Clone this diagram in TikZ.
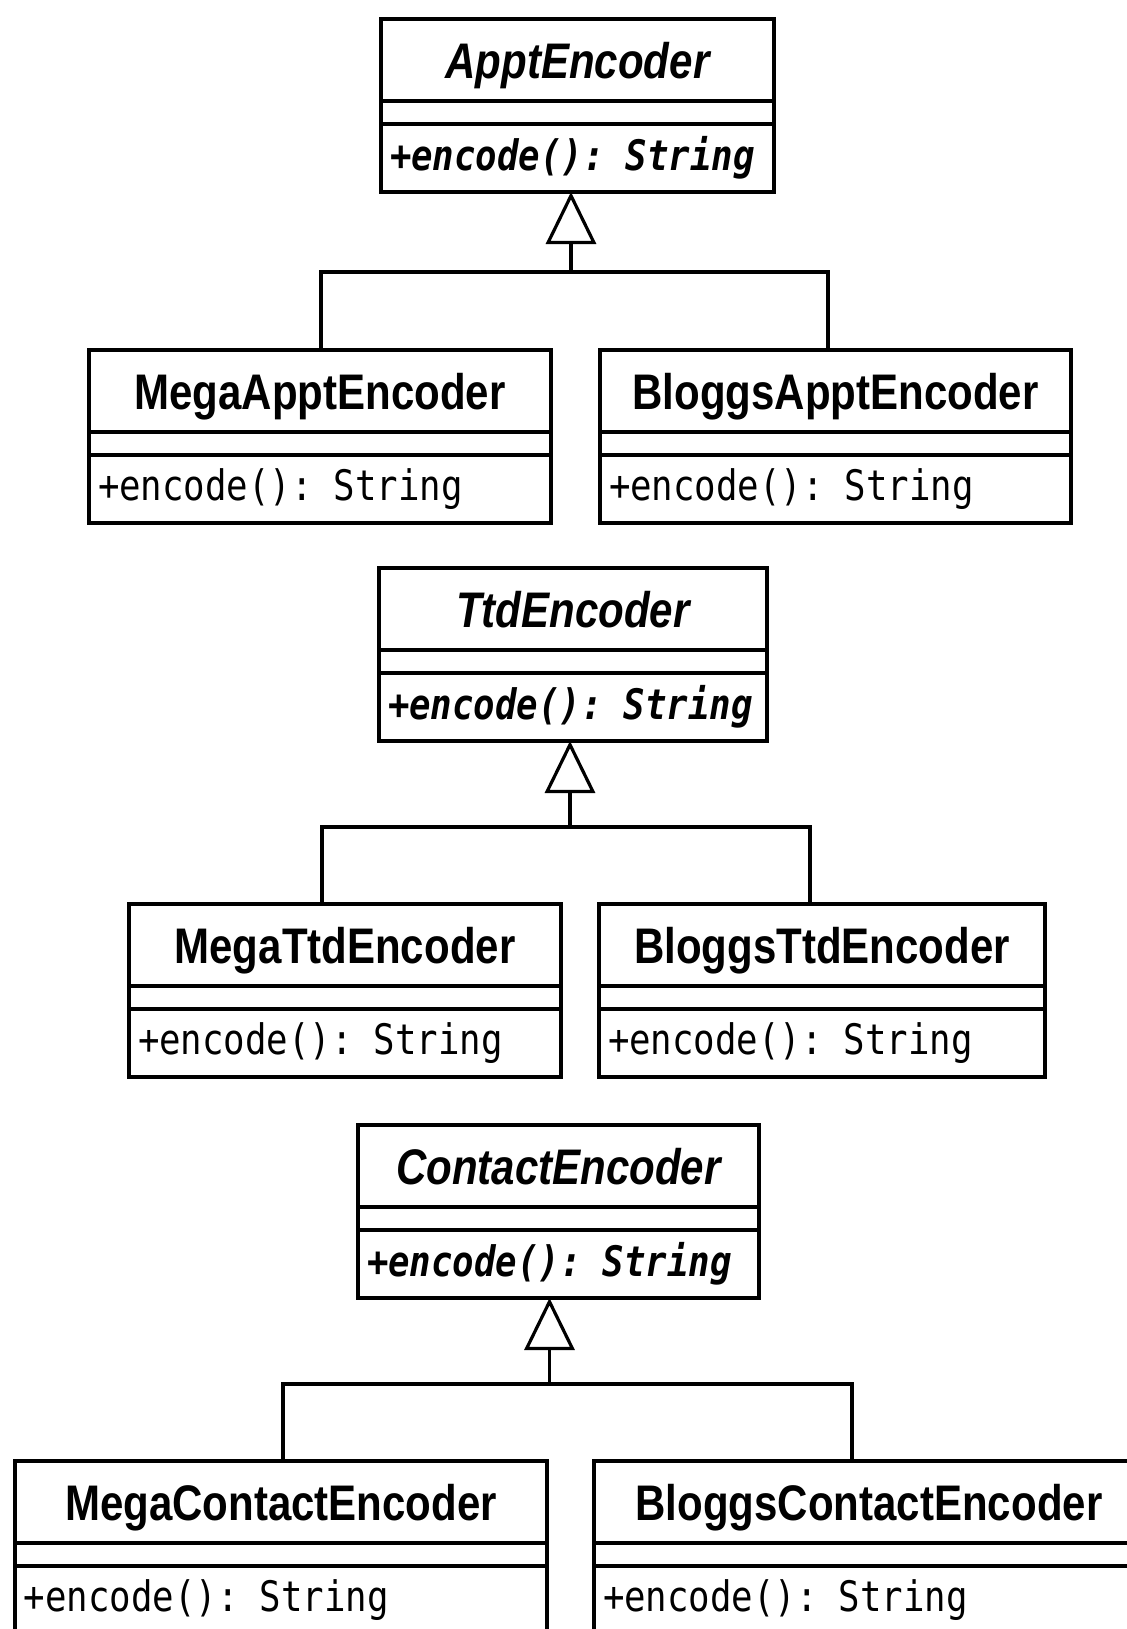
\documentclass[tikz,border=0pt]{standalone}
\usepackage{fontspec}
\usepackage{tikz}
\usetikzlibrary{positioning,arrows.meta}
\newfontfamily\titlefont[FakeStretch=0.84]{Liberation Sans}
\newfontfamily\opfont[FakeStretch=0.85]{DejaVu Sans Mono}

\begin{document}
\begin{tikzpicture}[x=0.5pt, y=-0.5pt,
  class name/.style={draw, line width=1.6pt, outer sep=0pt, anchor=north, minimum width=#1, minimum height=41pt, inner sep=0pt,
    text depth=0pt, font=\titlefont\bfseries\fontsize{25}{25}\selectfont},
  class attr/.style={draw, line width=1.6pt, outer sep=0pt, minimum width=#1, minimum height=11.5pt, inner sep=0pt},
  class ops/.style={draw, line width=1.6pt, outer sep=0pt, text width=#1, align=left, minimum height=34pt, inner xsep=4.5pt, inner ysep=0pt,
    font=\opfont\fontsize{21}{21}\selectfont},
  abstract/.style={font=\titlefont\bfseries\itshape\fontsize{25}{25}\selectfont},
  abstract op/.style={font=\opfont\bfseries\itshape\fontsize{21}{21}\selectfont},
  inherits/.style={line width=1.6pt},
  generalizes/.style={line width=1.6pt, -{Triangle[open, length=26pt, width=25pt, line width=1.6pt]}}]
\useasboundingbox (0,0) rectangle (1127,1629);
\clip (0,0) rectangle (1127,1629);

\node[class name=196.5pt, abstract] (appt) at (577.5,19) {ApptEncoder};
\node[class attr=196.5pt, below=0pt of appt] (appt attr) {};
\node[class ops=187.5pt, abstract op, below=0pt of appt attr] (appt ops) {+encode(): String};

\node[class name=231pt] (megaappt) at (320,350) {MegaApptEncoder};
\node[class attr=231pt, below=0pt of megaappt] (megaappt attr) {};
\node[class ops=222pt, below=0pt of megaappt attr] (megaappt ops) {+encode(): String};

\node[class name=235.5pt] (bloggsappt) at (835.5,350) {BloggsApptEncoder};
\node[class attr=235.5pt, below=0pt of bloggsappt] (bloggsappt attr) {};
\node[class ops=226.5pt, below=0pt of bloggsappt attr] (bloggsappt ops) {+encode(): String};

\node[class name=194pt, abstract] (ttd) at (573,568) {TtdEncoder};
\node[class attr=194pt, below=0pt of ttd] (ttd attr) {};
\node[class ops=185pt, abstract op, below=0pt of ttd attr] (ttd ops) {+encode(): String};

\node[class name=216pt] (megattd) at (345,904) {MegaTtdEncoder};
\node[class attr=216pt, below=0pt of megattd] (megattd attr) {};
\node[class ops=207pt, below=0pt of megattd attr] (megattd ops) {+encode(): String};

\node[class name=223pt] (bloggsttd) at (822,904) {BloggsTtdEncoder};
\node[class attr=223pt, below=0pt of bloggsttd] (bloggsttd attr) {};
\node[class ops=214pt, below=0pt of bloggsttd attr] (bloggsttd ops) {+encode(): String};

\node[class name=200.5pt, abstract] (contact) at (558.5,1125) {ContactEncoder};
\node[class attr=200.5pt, below=0pt of contact] (contact attr) {};
\node[class ops=191.5pt, abstract op, below=0pt of contact attr] (contact ops) {+encode(): String};

\node[class name=266pt] (megacontact) at (281,1461) {MegaContactEncoder};
\node[class attr=266pt, below=0pt of megacontact] (megacontact attr) {};
\node[class ops=257pt, below=0pt of megacontact attr] (megacontact ops) {+encode(): String};

\node[class name=275pt] (bloggscontact) at (869,1461) {BloggsContactEncoder};
\node[class attr=275pt, below=0pt of bloggscontact] (bloggscontact attr) {};
\node[class ops=266pt, below=0pt of bloggscontact attr] (bloggscontact ops) {+encode(): String};

\coordinate (appt joint) at (571,272);
\coordinate (ttd joint) at (570,827);
\coordinate (contact joint) at (549.5,1384);

\draw[inherits] ([xshift=0.5pt]megaappt.north) |- (appt joint) -| ([xshift=-3.75pt]bloggsappt.north);
\draw[generalizes] (appt joint) -- (appt joint |- appt ops.south);
\draw[inherits] ([xshift=-11.5pt]megattd.north) |- (ttd joint) -| ([xshift=-6pt]bloggsttd.north);
\draw[generalizes] (ttd joint) -- (ttd joint |- ttd ops.south);
\draw[inherits] ([xshift=1pt]megacontact.north) |- (contact joint) -| ([xshift=-8.5pt]bloggscontact.north);
\draw[generalizes] (contact joint) -- (contact joint |- contact ops.south);
\end{tikzpicture}
\end{document}
